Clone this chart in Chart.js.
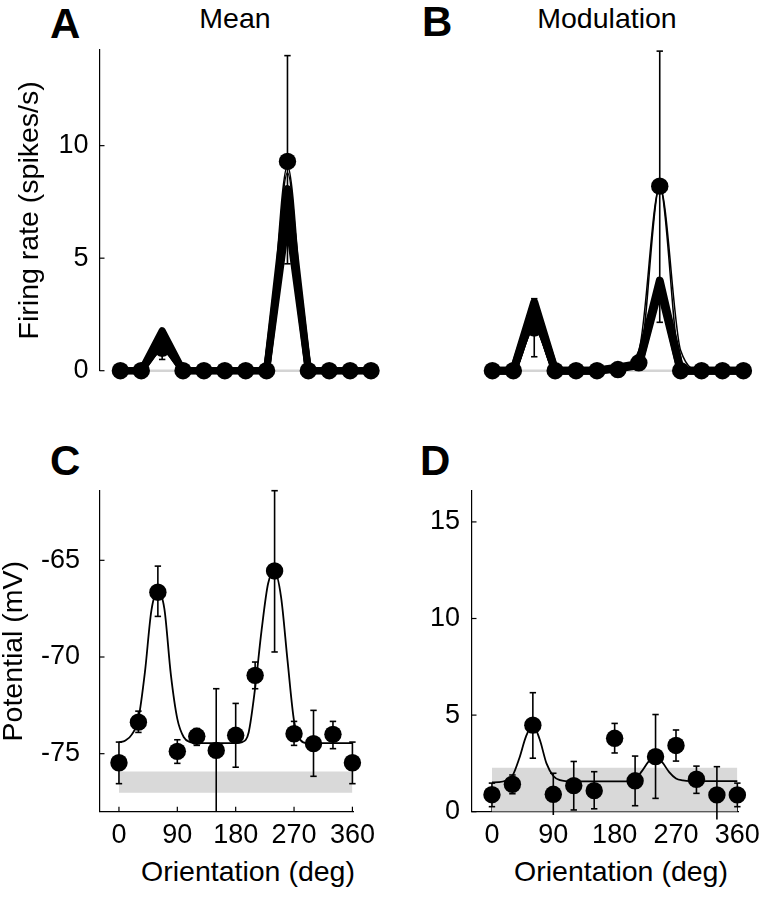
<!DOCTYPE html>
<html><head><meta charset="utf-8">
<script src="https://cdn.jsdelivr.net/npm/chart.js@4/dist/chart.umd.min.js"></script>
<style>
html,body{margin:0;padding:0;background:#fff;}
body{width:770px;height:899px;position:relative;overflow:hidden;font-family:"Liberation Sans",Arial,Helvetica,sans-serif;color:#000;}
.cv{position:absolute;}
.lab{position:absolute;font-weight:bold;font-size:42px;line-height:42px;}
.ttl{position:absolute;font-size:28.5px;line-height:28.5px;text-align:center;width:300px;white-space:nowrap;}
</style></head><body>
<div class="lab" style="left:50px;top:2.5px">A</div>
<div class="lab" style="left:422px;top:1px">B</div>
<div class="lab" style="left:50px;top:440px">C</div>
<div class="lab" style="left:420px;top:440px">D</div>
<div class="ttl" style="left:85px;top:4px">Mean</div>
<div class="ttl" style="left:457px;top:4px">Modulation</div>
<div class="ttl" style="left:98px;top:857px">Orientation (deg)</div>
<div class="ttl" style="left:471px;top:857px">Orientation (deg)</div>
<canvas id="cA" class="cv" width="385" height="420" style="left:0;top:0"></canvas>
<canvas id="cB" class="cv" width="385" height="420" style="left:385px;top:0"></canvas>
<canvas id="cC" class="cv" width="385" height="479" style="left:0;top:420px"></canvas>
<canvas id="cD" class="cv" width="385" height="479" style="left:385px;top:420px"></canvas>
<script>
// ---------- data ----------
const angles = [0,30,60,90,120,150,180,210,240,270,300,330,360];
const fitAngles = [0,10,20,30,40,50,60,70,80,90,100,110,120,130,140,150,160,170,180,190,200,210,220,230,240,250,260,270,280,290,300,310,320,330,340,350,360];
const xTickValues = [0,90,180,270,360];
const xTickLabels = ['0','90','180','270','360'];
const rateTickValues = [0,5,10];
const rateTickLabels = ['0','5','10'];
const potTickValues = [-75,-70,-65];
const potTickLabels = ['-75','-70','-65'];
const modTickValues = [0,5,10,15];
const modTickLabels = ['0','5','10','15'];

// A: Mean firing rate
const meanRate     = [0,0,1.0,0,0,0,0,0,9.3,0,0,0,0];
const meanErrLow   = [null,null,0.5,null,null,null,null,null,4.75,null,null,null,null];
const meanErrHigh  = [null,null,1.5,null,null,null,null,null,14.0,null,null,null,null];
const meanModel1   = [0,0,1.78,0,0,0,0,0,8.1,0,0,0,0];
const meanModel2   = [0,0,1.55,0,0,0,0,0,7.5,0,0,0,0];
const meanModel3   = [0,0,1.3,0,0,0,0,0,6.9,0,0,0,0];
const meanThin1    = [0,0,1.0,0,0,0,0,0.4,9.1,0.4,0,0,0];
const meanThin2    = [0,0,0.9,0,0,0,0,0.1,8.8,0.2,0,0,0];

// B: Modulation firing rate
const modRate      = [0,0,1.9,0,0,0,0.05,0.35,8.2,0,0,0,0];
const modErrLow    = [null,null,0.62,null,null,null,null,null,2.15,null,null,null,null];
const modErrHigh   = [null,null,3.2,null,null,null,null,null,14.2,null,null,null,null];
const modModel1    = [0,0,3.05,0,0,0,0.15,0.3,4.0,0,0,0,0];
const modModel2    = [0,0,2.8,0,0,0,0.1,0.25,3.75,0,0,0,0];
const modThin1     = [0,0,1.9,0,0,0,0.1,0.9,8.2,0.9,0,0,0];
const modThin2     = [0,0,1.9,0,0,0,0.05,0.3,8.2,0.2,0,0,0];

// C: Mean potential
const potMean    = [-75.47,-73.37,-66.65,-74.88,-74.1,-74.83,-74.05,-70.95,-65.55,-73.97,-74.48,-74.0,-75.47];
const potErrLow  = [-76.55,-73.9,-67.9,-75.5,-74.57,-78.0,-75.7,-71.64,-69.74,-74.57,-76.17,-74.74,-76.55];
const potErrHigh = [-74.4,-72.8,-65.3,-74.28,-73.7,-71.64,-72.4,-70.26,-61.4,-73.33,-72.76,-73.33,-74.4];
const potFit = [-74.42,-74.32,-74.0,-73.2,-70.8,-67.6,-66.6,-67.5,-70.9,-73.2,-74.15,-74.4,
  -74.45,-74.45,-74.45,-74.45,-74.45,-74.45,-74.45,
  -74.4,-73.9,-71.6,-68.6,-66.2,-65.6,-66.9,-70.2,-73.3,-74.3,
  -74.45,-74.45,-74.45,-74.45,-74.45,-74.45,-74.45,-74.45];
const potBand = [-77.02,-75.92];   // baseline range (bottom, top)

// D: Modulation potential
const modPot     = [0.88,1.42,4.48,0.9,1.35,1.09,3.8,1.6,2.85,3.43,1.68,0.87,0.87];
const modPotLow  = [0.26,0.93,2.77,-0.17,0.09,0.15,3.04,0.31,0.69,2.62,0.95,-0.4,0.26];
const modPotHigh = [1.48,1.9,6.16,1.99,2.6,2.07,4.57,2.88,5.03,4.23,2.36,2.33,1.48];
const modPotFit = [1.52,1.53,1.6,1.85,2.75,3.9,4.48,3.75,2.5,1.85,1.63,1.58,
  1.57,1.57,1.57,1.57,1.57,1.57,1.57,1.57,1.57,
  1.68,2.1,2.6,2.85,2.55,2.05,1.72,1.62,
  1.58,1.58,1.58,1.58,1.58,1.58,1.58,1.58];
const modBand = [0,2.28];

// ---------- helpers ----------
const FONT = '"Liberation Sans", Arial, Helvetica, sans-serif';
const pts = (xs, ys) => xs.map((x, i) => ({x, y: ys[i]}));

const errorBars = {
  id: 'errorBars',
  beforeDatasetDraw(chart, args) {
    const ds = chart.data.datasets[args.index];
    if (!ds.errLow) return;
    const xs = chart.scales.x, ys = chart.scales.y, ctx = chart.ctx;
    ctx.save();
    ctx.strokeStyle = '#000'; ctx.lineWidth = 1.6; ctx.lineCap = 'butt';
    ds.data.forEach((p, i) => {
      const lo = ds.errLow[i], hi = ds.errHigh[i];
      if (lo == null || hi == null) return;
      const x = xs.getPixelForValue(p.x);
      const yl = ys.getPixelForValue(lo), yh = ys.getPixelForValue(hi);
      ctx.beginPath(); ctx.moveTo(x, yl); ctx.lineTo(x, yh); ctx.stroke();
      [[lo, yl], [hi, yh]].forEach(([v, y]) => {
        if (v > ys.min + 1e-9 && v <= ys.max + 1e-9) {
          ctx.beginPath(); ctx.moveTo(x - 3.2, y); ctx.lineTo(x + 3.2, y); ctx.stroke();
        }
      });
    });
    ctx.restore();
  }
};

const inTicks = {
  id: 'inTicks',
  beforeDatasetsDraw(chart, args, opts) {
    const ctx = chart.ctx, a = chart.chartArea, L = 5;
    ctx.save(); ctx.strokeStyle = '#000'; ctx.lineWidth = 1.2;
    if (opts.y) {
      const s = chart.scales.y;
      s.ticks.forEach(t => { const y = s.getPixelForValue(t.value); ctx.beginPath(); ctx.moveTo(a.left, y); ctx.lineTo(a.left + L, y); ctx.stroke(); });
    }
    if (opts.x) {
      const s = chart.scales.x;
      s.ticks.forEach(t => { const x = s.getPixelForValue(t.value); ctx.beginPath(); ctx.moveTo(x, a.bottom); ctx.lineTo(x, a.bottom - L); ctx.stroke(); });
    }
    ctx.restore();
  }
};

function dotSet(ys, lo, hi) {
  return {data: pts(angles, ys), showLine: false, pointRadius: 8.7, pointHoverRadius: 8.7,
    pointBackgroundColor: '#000', pointBorderWidth: 0, clip: false, order: 5, errLow: lo, errHigh: hi};
}
function lineSet(xs, ys, w, order, smooth) {
  return {data: pts(xs, ys), borderColor: '#000', borderWidth: w, pointRadius: 0, clip: false, order,
    borderJoinStyle: 'round', cubicInterpolationMode: smooth ? 'monotone' : 'default', tension: 0};
}
function baseLine() {
  return {data: [{x:0,y:0},{x:360,y:0}], borderColor: '#d4d4d4', borderWidth: 2.5, pointRadius: 0, clip: false, order: 10};
}
function bandSets(b) {
  return [
    {data: [{x:0,y:b[1]},{x:360,y:b[1]}], borderWidth: 0, pointRadius: 0, fill: '+1', backgroundColor: '#d9d9d9', order: 9},
    {data: [{x:0,y:b[0]},{x:360,y:b[0]}], borderWidth: 0, pointRadius: 0, fill: false, order: 9}
  ];
}
function xScale(show) {
  return {type: 'linear', min: -30, max: 362, display: show,
    afterBuildTicks: s => { s.ticks = xTickValues.map(v => ({value: v})); },
    afterFit: s => { s.height = show ? 87.3 : 0; },
    grid: {display: false, drawTicks: false},
    border: {display: true, color: '#000', width: 1.2},
    ticks: {padding: 10, color: '#000', maxRotation: 0, autoSkip: false, font: {family: FONT, size: 27, lineHeight: 1},
      callback: (v, i) => xTickLabels[i]}};
}
function yScale(show, min, max, tv, tl, width, pad, title, tpad) {
  return {type: 'linear', min, max, display: show,
    afterBuildTicks: s => { s.ticks = tv.map(v => ({value: v})); },
    afterFit: s => { s.width = show ? width : 0; },
    grid: {display: false, drawTicks: false},
    border: {display: true, color: '#000', width: 1.2},
    ticks: {padding: pad, color: '#000', font: {family: FONT, size: 27, lineHeight: 1}, callback: (v, i) => tl[i]},
    title: {display: !!title, text: title || '', color: '#000', font: {family: FONT, size: 28.5, lineHeight: 1}, padding: {top: tpad || 0, bottom: 0}}};
}
function make(id, datasets, scales, padding, tickOpts) {
  return new Chart(document.getElementById(id), {
    type: 'line',
    data: {datasets},
    options: {responsive: false, animation: false, devicePixelRatio: 1,
      layout: {padding},
      plugins: {legend: {display: false}, tooltip: {enabled: false}, inTicks: tickOpts},
      scales},
    plugins: [errorBars, inTicks]
  });
}

// A
make('cA', [
  lineSet(angles, meanModel1, 7, 1, false),
  lineSet(angles, meanModel2, 7, 1, false),
  lineSet(angles, meanModel3, 7, 1, false),
  lineSet(angles, meanThin1, 1.5, 3, true),
  lineSet(angles, meanThin2, 1.5, 3, true),
  dotSet(meanRate, meanErrLow, meanErrHigh),
  baseLine()
], {x: xScale(false), y: yScale(true, 0, 14.25, rateTickValues, rateTickLabels, 99.5, 11, 'Firing rate (spikes/s)', 15.5)},
{left: 0, top: 50, right: 12.6, bottom: 49.3}, {x: false, y: true});

// B
make('cB', [
  lineSet(angles, modModel1, 8, 1, false),
  lineSet(angles, modModel2, 8, 1, false),
  lineSet(angles, modThin1, 1.5, 3, true),
  lineSet(angles, modThin2, 1.5, 3, true),
  dotSet(modRate, modErrLow, modErrHigh),
  baseLine()
], {x: xScale(false), y: yScale(false, 0, 14.25, rateTickValues, rateTickLabels, 0, 11, '', 0)},
{left: 86.5, top: 50, right: 25.2, bottom: 49.3}, {x: false, y: false});

// C
make('cC', [
  lineSet(fitAngles, potFit, 1.8, 3, true),
  dotSet(potMean, potErrLow, potErrHigh),
  ...bandSets(potBand)
], {x: xScale(true), y: yScale(true, -78, -61.4, potTickValues, potTickLabels, 99.5, 19.5, 'Potential (mV)', 0)},
{left: 0, top: 70.7, right: 12.6, bottom: 0}, {x: true, y: true});

// D
make('cD', [
  lineSet(fitAngles, modPotFit, 1.8, 3, true),
  dotSet(modPot, modPotLow, modPotHigh),
  ...bandSets(modBand)
], {x: xScale(true), y: yScale(true, 0, 16.6, modTickValues, modTickLabels, 86.5, 11.5, '', 0)},
{left: 0, top: 71, right: 25.2, bottom: 0}, {x: true, y: true});
</script>
</body></html>
